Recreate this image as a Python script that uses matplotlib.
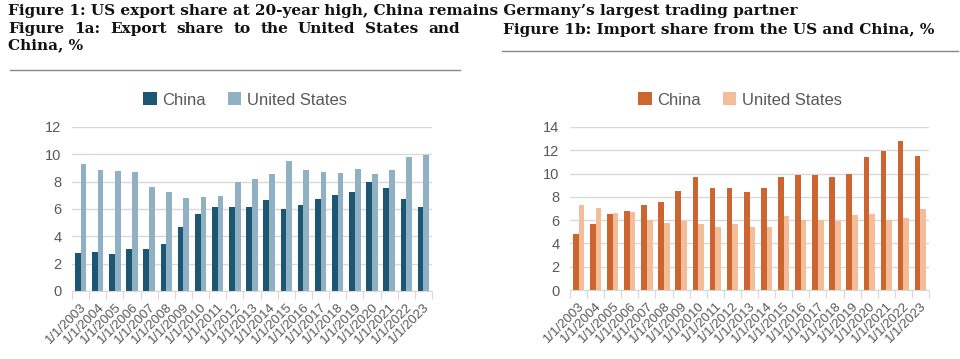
import numpy as np
import matplotlib
matplotlib.use("Agg")
from matplotlib import pyplot as plt

years = ["1/1/%d" % y for y in range(2003, 2024)]

# Figure 1a: export share, %
exp_china = [2.76, 2.88, 2.71, 3.08, 3.10, 3.47, 4.65, 5.65, 6.11, 6.11, 6.16,
             6.63, 5.99, 6.31, 6.72, 7.04, 7.21, 7.95, 7.55, 6.70, 6.11]
exp_us = [9.29, 8.85, 8.80, 8.73, 7.58, 7.26, 6.77, 6.87, 6.97, 7.97, 8.22,
          8.53, 9.51, 8.85, 8.73, 8.61, 8.92, 8.58, 8.85, 9.78, 9.93]

# Figure 1b: import share, %
imp_china = [4.79, 5.68, 6.49, 6.80, 7.32, 7.55, 8.52, 9.70, 8.78, 8.72, 8.38,
             8.78, 9.67, 9.84, 9.87, 9.73, 9.96, 11.42, 11.97, 12.80, 11.51]
imp_us = [7.32, 7.06, 6.63, 6.71, 5.97, 5.74, 5.94, 5.68, 5.37, 5.65, 5.45,
          5.39, 6.34, 6.05, 6.00, 5.94, 6.43, 6.57, 6.03, 6.20, 6.92]

plt.rcParams['font.family'] = ['Liberation Sans', 'DejaVu Sans']
grey = '#595959'

fig = plt.figure(figsize=(9.6, 3.59), dpi=100)
renderer = fig.canvas.get_renderer()

serif = dict(family='DejaVu Serif', weight='bold', color='#111111', fontsize=11)


def justified(words, x0, x1, y):
    # place words so the line fills x0..x1 (pixels)
    texts = [fig.text(0, 1 - y/359, w, va='center', ha='left', **serif) for w in words]
    widths = [t.get_window_extent(renderer).width for t in texts]
    gap = (x1 - x0 - sum(widths)) / (len(words) - 1)
    x = x0
    for t, w in zip(texts, widths):
        t.set_x(x/960)
        x += w + gap


fig.text(8/960, 1 - 11/359, "Figure 1: US export share at 20-year high, China remains Germany\u2019s largest trading partner",
         va='center', ha='left', **serif)
justified("Figure 1a: Export share to the United States and".split(), 8, 460, 29)
fig.text(8/960, 1 - 45/359, "China, %", va='center', ha='left', **serif)
fig.text(503/960, 1 - 30/359, "Figure 1b: Import share from the US and China, %",
         va='center', ha='left', **serif)
fig.add_artist(plt.Line2D([10/960, 460/960], [1 - 70/359, 1 - 70/359], color='#888888', lw=1))
fig.add_artist(plt.Line2D([502/960, 958/960], [1 - 51/359, 1 - 51/359], color='#888888', lw=1))


def bar_panel(rect, a, b, ca, cb, ymax, legend_x):
    ax = fig.add_axes(rect)
    x = np.arange(len(years))
    w = 0.33
    ax.bar(x - w/2, a, w, color=ca, label='China')
    ax.bar(x + w/2, b, w, color=cb, label='United States')
    ax.set_xlim(-0.5, len(years) - 0.5)
    ax.set_ylim(0, ymax)
    ax.set_yticks(np.arange(0, ymax + 1, 2))
    ax.grid(axis='y', color='#d9d9d9', lw=1)
    ax.set_axisbelow(True)
    for s in ['top', 'right', 'left']:
        ax.spines[s].set_visible(False)
    ax.spines['bottom'].set_color('#d9d9d9')
    ax.set_xticks(np.arange(-0.5, len(years), 1))
    ax.set_xticklabels([])
    ax.set_xticks(x, minor=True)
    ax.set_xticklabels(years, minor=True, rotation=45, ha='right',
                       rotation_mode='anchor', fontsize=9.5, color=grey)
    ax.tick_params(axis='x', which='major', length=6, color='#d9d9d9')
    ax.tick_params(axis='x', which='minor', length=0, pad=7)
    ax.tick_params(axis='y', length=0, labelsize=10.5, labelcolor=grey, pad=7.5)
    ax.legend(loc='center', bbox_to_anchor=(legend_x, 1 - 100/359),
              bbox_transform=fig.transFigure, ncol=2, frameon=False,
              fontsize=12, labelcolor=grey, handlelength=0.8, handleheight=0.8,
              columnspacing=1.3, handletextpad=0.35)
    return ax


bar_panel([72/960, 68/359, 360/960, 164/359], exp_china, exp_us,
          '#1d5673', '#8fb1c3', 12, 245/960)
bar_panel([570/960, 69/359, 359/960, 163/359], imp_china, imp_us,
          '#cd6531', '#f3bd9a', 14, 740/960)

fig.savefig('out.png', dpi=100)
